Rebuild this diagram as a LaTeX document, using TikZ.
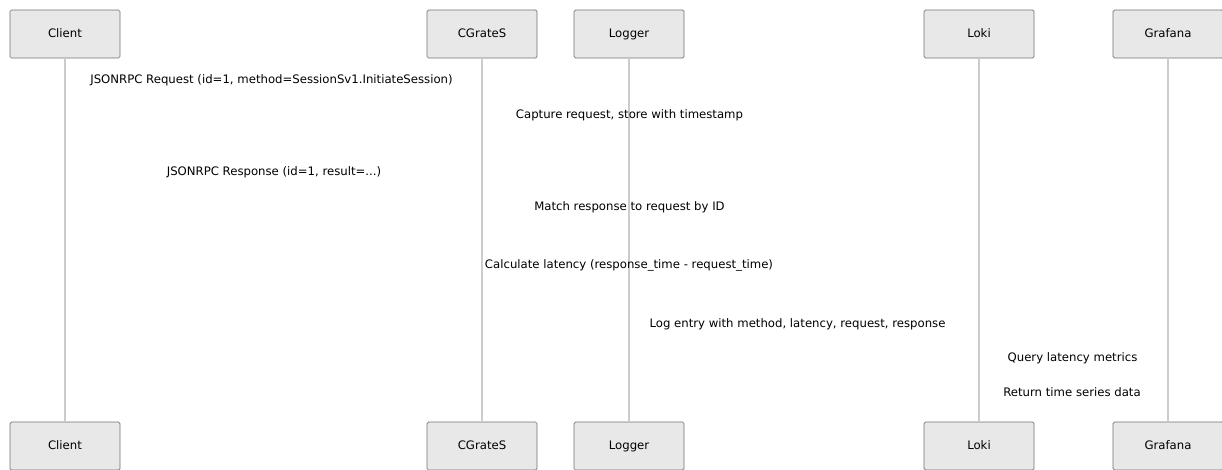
\documentclass[tikz,border=0pt]{standalone}
\usepackage{fontspec}
\setmainfont{DejaVu Sans}
\begin{document}
\begin{tikzpicture}[x=1pt,y=-1pt,
  actor/.style={draw=black!55, fill=black!9, rounded corners=1.5pt, line width=0.7pt,
    minimum width=110pt, minimum height=48pt, inner sep=0pt, text height=8.5pt, text depth=2.3pt,
    font=\fontsize{11.7}{14}\selectfont},
  life/.style={draw=black!20, line width=1.4pt},
  msg/.style={inner sep=0pt, text height=8.5pt, text depth=2.3pt, font=\fontsize{11.7}{14}\selectfont}]
\useasboundingbox (0,0) rectangle (1222,469);
\fill[white] (0,0) rectangle (1222,469);
\foreach \n/\t/\x in {cl/Client/65, cg/CGrateS/482, lg/Logger/629, lk/Loki/979, gf/Grafana/1168}{
  \node[actor] (\n t) at (\x,34) {\t};
  \node[actor] (\n b) at (\x,446) {\t};
}
\foreach \n in {cl,cg,lg,lk,gf}{
  \draw[life] (\n t.south) -- (\n b.north);
}
\node[msg] (m1) at (271.5,80) {JSONRPC Request (id=1, method=SessionSv1.InitiateSession)};
\node[msg] (m2) at (629.5,115) {Capture request, store with timestamp};
\node[msg] (m3) at (274,172) {JSONRPC Response (id=1, result=...)};
\node[msg] (m4) at (629.5,207) {Match response to request by ID};
\node[msg] (m5) at (629,265) {Calculate latency (response\_time - request\_time)};
\node[msg] (m6) at (797.5,324) {Log entry with method, latency, request, response};
\node[msg] (m7) at (1072.5,358) {Query latency metrics};
\node[msg] (m8) at (1072,393) {Return time series data};
\end{tikzpicture}
\end{document}
